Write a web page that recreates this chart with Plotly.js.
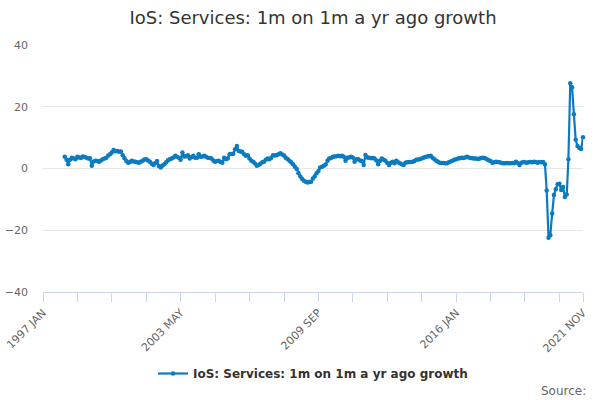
<!DOCTYPE html>
<html>
<head>
<meta charset="utf-8">
<script src="https://cdn.plot.ly/plotly-3.0.1.min.js"></script>
<style>html,body{margin:0;padding:0;background:#fff;}#chart{width:600px;height:400px;}</style>
</head>
<body>
<div id="chart"></div>
<script>
// Monthly values, 1998 JAN to 2021 NOV
var startYear = 1998;
var v1998 = [3.8, 2.8, 1.4, 2.8, 3.5, 3.2, 3.0, 3.8, 3.6, 3.4, 3.9, 3.7];
var v1999 = [3.5, 3.2, 3.3, 0.9, 2.3, 2.5, 2.4, 2.2, 2.6, 3.0, 3.2, 3.5];
var v2000 = [4.2, 4.6, 5.2, 6.0, 5.6, 5.7, 5.4, 5.5, 4.3, 3.3, 2.4, 1.9];
var v2001 = [2.1, 2.5, 2.3, 2.2, 2.0, 1.9, 2.2, 2.5, 2.9, 3.0, 2.6, 2.2];
var v2002 = [1.5, 1.1, 1.8, 2.4, 0.8, 0.3, 1.0, 1.4, 2.0, 2.7, 3.0, 3.2];
var v2003 = [3.6, 4.1, 3.8, 3.5, 2.8, 5.2, 3.9, 4.0, 4.3, 3.2, 3.7, 4.1];
var v2004 = [3.5, 3.5, 4.6, 3.8, 3.9, 4.1, 3.8, 3.5, 3.4, 3.2, 2.6, 2.2];
var v2005 = [2.4, 2.5, 2.1, 1.9, 3.5, 3.0, 3.2, 4.6, 4.7, 4.8, 6.2, 7.3];
var v2006 = [5.7, 5.5, 5.4, 4.6, 4.1, 4.3, 3.2, 2.5, 2.2, 1.6, 0.9, 1.1];
var v2007 = [1.5, 2.0, 2.2, 2.8, 3.2, 3.0, 3.5, 4.3, 4.2, 4.3, 4.6, 4.9];
var v2008 = [4.5, 4.2, 3.5, 3.1, 2.5, 2.0, 1.4, 0.6, -0.2, -1.5, -2.6, -3.4];
var v2009 = [-4.0, -4.3, -4.5, -4.4, -4.3, -3.2, -2.5, -1.5, -0.8, 0.3, 0.6, 0.9];
var v2010 = [1.3, 2.5, 3.2, 3.4, 3.8, 3.9, 4.0, 4.1, 4.0, 4.1, 3.8, 2.5];
var v2011 = [3.5, 3.6, 3.8, 3.6, 2.2, 3.0, 3.0, 2.6, 2.4, 1.1, 4.4, 3.6];
var v2012 = [3.5, 3.3, 3.4, 3.2, 2.6, 1.4, 2.5, 3.2, 2.8, 2.5, 1.8, 1.1];
var v2013 = [1.9, 2.2, 1.7, 2.5, 2.0, 1.7, 1.4, 1.1, 1.9, 2.0, 2.1, 2.1];
var v2014 = [2.2, 2.4, 2.8, 2.9, 3.0, 3.2, 3.5, 3.7, 3.9, 4.0, 4.1, 3.5];
var v2015 = [3.0, 2.5, 2.2, 1.9, 1.8, 1.8, 1.7, 1.7, 2.0, 2.3, 2.5, 2.8];
var v2016 = [3.0, 3.2, 3.3, 3.5, 3.4, 3.6, 3.8, 3.6, 3.4, 3.3, 3.2, 3.2];
var v2017 = [3.1, 3.2, 3.4, 3.5, 3.3, 3.0, 2.7, 2.4, 1.9, 2.0, 2.2, 2.1];
var v2018 = [2.0, 1.8, 1.7, 1.7, 1.8, 1.7, 1.7, 1.8, 1.7, 2.2, 1.8, 1.1];
var v2019 = [1.9, 2.1, 2.0, 1.9, 2.0, 2.1, 2.0, 2.2, 2.1, 1.9, 2.1, 2.0];
var v2020 = [2.1, 1.4, -7.1, -22.4, -21.6, -14.6, -8.6, -6.7, -5.1, -4.9, -7.0, -6.0];
var v2021 = [-9.2, -8.4, 3.0, 27.6, 26.3, 17.6, 9.3, 7.3, 6.6, 6.3, 10.1];

var yearly = [v1998, v1999, v2000, v2001, v2002, v2003, v2004, v2005, v2006, v2007, v2008,
  v2009, v2010, v2011, v2012, v2013, v2014, v2015, v2016, v2017, v2018, v2019, v2020, v2021];

var tickDates = ["1997-01-01","1998-08-01","2000-03-01","2001-10-01","2003-05-01","2004-12-01",
  "2006-07-01","2008-02-01","2009-09-01","2011-04-01","2012-11-01","2014-06-01","2016-01-01",
  "2017-08-01","2019-03-01","2020-10-01","2021-11-01"];
var tickLabels = ["1997 JAN","","","","2003 MAY","","","","2009 SEP","","","","2016 JAN","","","","2021 NOV"];

var seriesName = "IoS: Services: 1m on 1m a yr ago growth";

var xs = [], ys = [];
yearly.forEach(function (arr, i) {
  arr.forEach(function (v, j) {
    var mm = j + 1;
    xs.push((startYear + i) + "-" + (mm < 10 ? "0" + mm : mm) + "-01");
    ys.push(v);
  });
});

var blue = "#0b7bc1";
var trace = {
  x: xs, y: ys, type: "scatter", mode: "lines+markers", name: seriesName,
  line: {color: blue, width: 2.2},
  marker: {color: blue, size: 4.5},
  cliponaxis: false,
  hoverinfo: "none"
};

var layout = {
  width: 600, height: 400,
  margin: {l: 43, r: 17, t: 45, b: 108},
  paper_bgcolor: "#fff", plot_bgcolor: "#fff",
  font: {family: "DejaVu Sans, sans-serif", color: "#666", size: 11},
  title: {text: "IoS: Services: 1m on 1m a yr ago growth", font: {family: "DejaVu Sans, sans-serif", size: 18, color: "#333"},
    x: 0.5, xanchor: "center", y: 0.955, yanchor: "middle", xref: "paper"},
  showlegend: true,
  legend: {orientation: "h", x: 0.5, xanchor: "center", y: -0.33, yanchor: "middle",
    font: {family: "DejaVu Sans, sans-serif", size: 12, color: "#333", weight: "bold"}},
  xaxis: {
    type: "date",
    range: ["1997-01-01", "2021-11-01"],
    tickmode: "array", tickvals: tickDates, ticktext: tickLabels,
    tickangle: -45, ticks: "outside", ticklen: 9, tickcolor: "#ccd6eb", tickwidth: 1,
    showline: true, linecolor: "#ccd6eb", linewidth: 1,
    showgrid: false, zeroline: false,
    tickfont: {size: 11, color: "#666"}
  },
  yaxis: {
    range: [-40, 40], tickvals: [-40, -20, 0, 20, 40],
    showgrid: true, gridcolor: "#e6e6e6", gridwidth: 1,
    zeroline: false, showline: false, ticks: "",
    ticklabelstandoff: 14,
    tickfont: {size: 11, color: "#666"}
  },
  annotations: [{
    text: "Source:", xref: "paper", yref: "paper", x: 1.01, y: -0.4,
    xanchor: "right", yanchor: "middle", showarrow: false,
    font: {size: 12, color: "#666"}
  }]
};

Plotly.newPlot("chart", [trace], layout, {staticPlot: true, displayModeBar: false});
</script>
</body>
</html>
